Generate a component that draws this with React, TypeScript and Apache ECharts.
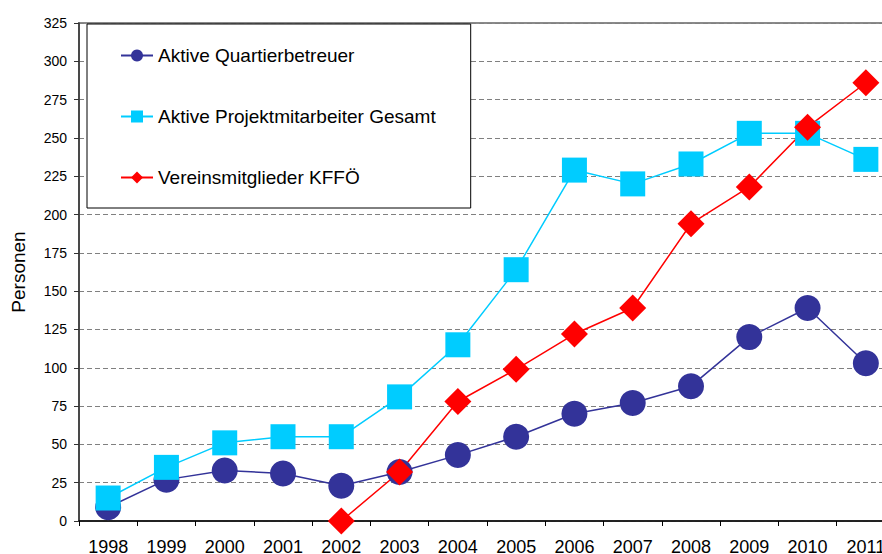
import React, { useEffect, useRef } from "react";
import * as echarts from "echarts";

const years = ["1998", "1999", "2000", "2001", "2002", "2003", "2004", "2005", "2006", "2007", "2008", "2009", "2010", "2011"];
const quartierbetreuer = [9, 27, 33, 31, 23, 32, 43, 55, 70, 77, 88, 120, 139, 103];
const projektmitarbeiter = [15, 35, 51, 55, 55, 81, 115, 164, 229, 220, 233, 253, 253, 236];
const vereinsmitglieder = [null, null, null, null, 0, 32, 78, 99, 122, 139, 194, 218, 257, 286];

const FONT = "'Liberation Sans', Arial, sans-serif";

export default function App() {
  const ref = useRef<HTMLDivElement>(null);
  useEffect(() => {
    if (!ref.current) return;
    const chart = echarts.init(ref.current, undefined, { renderer: "svg" });
    chart.setOption({
      animation: false,
      backgroundColor: "#ffffff",
      textStyle: { fontFamily: FONT },
      grid: {
        left: 79,
        top: 23,
        width: 816,
        height: 498,
        containLabel: false,
        outerBoundsMode: "none",
        show: true,
        borderColor: "#8a8a8a",
        borderWidth: 2,
        backgroundColor: "transparent",
      },
      legend: {
        orient: "vertical",
        left: 87,
        top: 24,
        padding: [22, 35, 21, 33],
        itemGap: 42,
        itemWidth: 32,
        itemHeight: 15,
        backgroundColor: "#ffffff",
        borderColor: "#000000",
        borderWidth: 1,
        borderRadius: 0,
        textStyle: { fontFamily: FONT, fontSize: 19, color: "#000000" },
        data: ["Aktive Quartierbetreuer", "Aktive Projektmitarbeiter Gesamt", "Vereinsmitglieder KFFÖ"],
      },
      xAxis: {
        type: "category",
        data: years,
        boundaryGap: true,
        axisLine: { lineStyle: { color: "#000000", width: 1.5 } },
        axisTick: { show: true, length: 5, lineStyle: { color: "#000000" } },
        axisLabel: { fontFamily: FONT, fontSize: 18, color: "#000000", margin: 17 },
        splitLine: { show: false },
      },
      yAxis: {
        type: "value",
        min: 0,
        max: 325,
        interval: 25,
        name: "Personen",
        nameLocation: "middle",
        nameGap: 51,
        nameTextStyle: { fontFamily: FONT, fontSize: 19, color: "#000000" },
        axisLine: { show: true, lineStyle: { color: "#333333", width: 1.5 } },
        axisTick: { show: true, length: 5, lineStyle: { color: "#333333" } },
        axisLabel: { fontFamily: FONT, fontSize: 14, color: "#000000", margin: 12 },
        splitLine: { show: true, lineStyle: { color: "#808080", type: [5, 3], width: 1 } },
      },
      series: [
        {
          name: "Aktive Quartierbetreuer",
          type: "line",
          data: quartierbetreuer,
          symbol: "circle",
          symbolSize: 26,
          lineStyle: { color: "#333399", width: 1.5 },
          itemStyle: { color: "#333399" },
        },
        {
          name: "Aktive Projektmitarbeiter Gesamt",
          type: "line",
          data: projektmitarbeiter,
          symbol: "rect",
          symbolSize: 25,
          lineStyle: { color: "#00CCFF", width: 1.5 },
          itemStyle: { color: "#00CCFF" },
        },
        {
          name: "Vereinsmitglieder KFFÖ",
          type: "line",
          data: vereinsmitglieder,
          symbol: "diamond",
          symbolSize: 27,
          connectNulls: false,
          lineStyle: { color: "#FF0000", width: 1.5 },
          itemStyle: { color: "#FF0000" },
        },
      ],
    });
    return () => chart.dispose();
  }, []);
  return (
    <div
      ref={ref}
      style={{ position: "absolute", left: 0, top: 0, width: 882, height: 554 }}
    />
  );
}
